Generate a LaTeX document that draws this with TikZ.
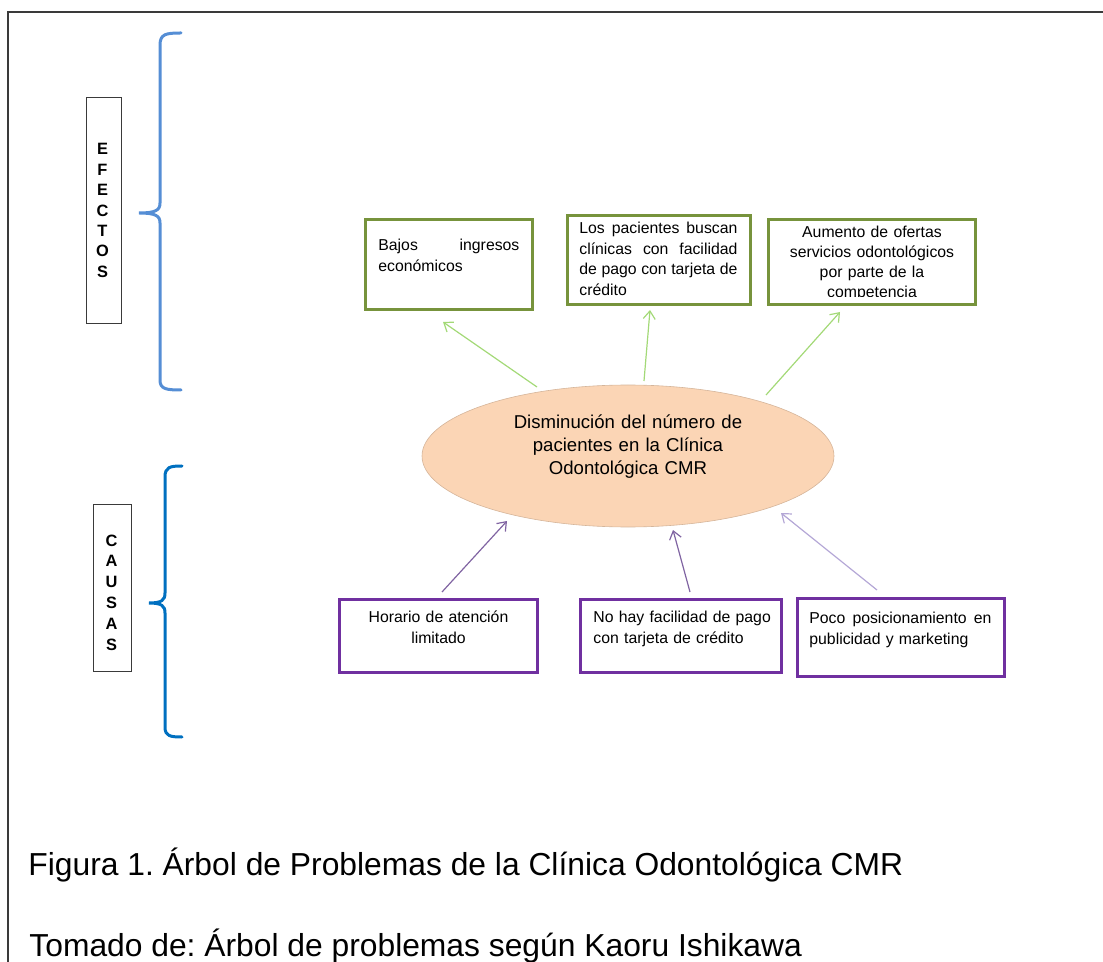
\documentclass[tikz,border=0pt]{standalone}
\usepackage{fontspec}
\setmainfont{Liberation Sans}
\frenchspacing
\usetikzlibrary{shapes.geometric,arrows.meta}
\definecolor{effgreen}{HTML}{77933C}
\definecolor{causepurple}{HTML}{7030A0}
\definecolor{arrgreen}{HTML}{A3D977}
\definecolor{arrpurple}{HTML}{8064A2}
\definecolor{arrlilac}{HTML}{B4A7D6}
\definecolor{bracelight}{HTML}{558ED5}
\definecolor{bracedark}{HTML}{0070C0}
\definecolor{peach}{HTML}{FBD5B5}
\definecolor{framegray}{HTML}{3A3A3A}
\newcommand{\spreadline}[2]{\leavevmode\hbox to #1{#2}}
\tikzset{
  effbox/.style={draw=effgreen, line width=1.5pt, rectangle, inner sep=0pt},
  causebox/.style={draw=causepurple, line width=1.5pt, rectangle, inner sep=0pt},
  labelbox/.style={draw=framegray, line width=0.5pt, rectangle, inner sep=0pt},
  boxtext/.style={inner sep=0pt, font=\fontsize{7.9}{10.5}\selectfont},
  vletters/.style={inner sep=0pt, text width=20pt, align=center, font=\bfseries\fontsize{8.2}{10.2}\selectfont},
  arrowline/.style={line width=0.6pt, -{Straight Barb[length=4pt,width=6pt]}},
  bracestyle/.style={line width=1.5pt, line cap=round}
}
\begin{document}
\begin{tikzpicture}[x=0.5pt,y=-0.5pt]
\useasboundingbox (0,0) rectangle (1103,962);
% frame
\draw[framegray, line width=1pt] (8,962) -- (8,12) -- (1103,12);

% side labels
\node[labelbox, minimum width=17.5pt, minimum height=113pt] (efbox) at (103.5,211) {};
\node[vletters, anchor=base] (eftext) at (102.5,155) {E\\F\\E\\C\\T\\O\\S};
\node[labelbox, minimum width=19pt, minimum height=83.5pt] (cabox) at (112,587.5) {};
\node[vletters, font=\bfseries\fontsize{8.2}{10.4}\selectfont, anchor=base] (catext) at (111.5,546) {C\\A\\U\\S\\A\\S};

% braces
\draw[bracelight, bracestyle] (181,33) .. controls (166,33) and (160,34) .. (160,45)
  -- (160,203) .. controls (160,210) and (156,213) .. (139,213)
  .. controls (156,213) and (160,216) .. (160,223)
  -- (160,380) .. controls (160,389) and (166,390) .. (181,390);
\draw[bracedark, bracestyle] (182,466) .. controls (170,466) and (165,467) .. (165,477)
  -- (165,593) .. controls (165,600) and (162,603) .. (149,603)
  .. controls (162,603) and (165,606) .. (165,613)
  -- (165,727) .. controls (165,736) and (170,737) .. (182,737);

% central problem
\node[ellipse, fill=peach, draw=peach!85!black, line width=0.3pt, minimum width=206pt, minimum height=71pt, inner sep=0pt] (ell) at (628,456) {};
\node[inner sep=0pt, text width=180pt, align=center, anchor=base, font=\fontsize{9.3}{11.5}\selectfont] (elltext) at (628,429)
  {Disminución del número de\\pacientes en la Clínica\\Odontológica CMR};

% effects
\node[effbox, minimum width=83.5pt, minimum height=45pt] (e1) at (449,264.5) {};
\node[boxtext, text width=70.5pt, align=left, anchor=base west] (e1t) at (378,251)
  {\spreadline{70.5pt}{Bajos\hfill ingresos}\\económicos};
\node[effbox, minimum width=91.5pt, minimum height=44.5pt] (e2) at (659,260) {};
\node[boxtext, font=\fontsize{7.9}{10.2}\selectfont, text width=79pt, align=left, anchor=base west] (e2t) at (579,234)
  {\spreadline{79pt}{Los\hfill pacientes\hfill buscan}\\\spreadline{79pt}{clínicas\hfill con\hfill facilidad}\\\spreadline{79pt}{de\hfill pago\hfill con\hfill tarjeta\hfill de}\\crédito};
\begin{scope}
\clip (770,221) rectangle (974,297);
\node[boxtext, font=\fontsize{7.9}{10}\selectfont, text width=100pt, align=center, anchor=base] (e3t) at (872,238)
  {Aumento de ofertas\\servicios odontológicos\\por parte de la\\competencia};
\end{scope}
\node[effbox, minimum width=103.5pt, minimum height=42.5pt] (e3) at (872,262) {};

% causes
\node[causebox, minimum width=99pt, minimum height=36.5pt] (c1) at (438.5,636) {};
\node[boxtext, text width=95pt, align=center, anchor=base] (c1t) at (438.5,622) {Horario de atención\\limitado};
\node[causebox, minimum width=100.5pt, minimum height=36.5pt] (c2) at (681,636) {};
\node[boxtext, text width=95pt, align=left, anchor=base west] (c2t) at (593,622) {No hay facilidad de pago\\con tarjeta de crédito};
\node[causebox, minimum width=103.5pt, minimum height=39pt] (c3) at (901,637.5) {};
\node[boxtext, text width=91pt, align=left, anchor=base west] (c3t) at (809,623)
  {\spreadline{91pt}{Poco\hfill posicionamiento\hfill en}\\publicidad y marketing};

% arrow end points
\coordinate (g1s) at (537,387); \coordinate (g1e) at (443,322);
\coordinate (g2s) at (644,381); \coordinate (g2e) at (650,310);
\coordinate (g3s) at (766,395); \coordinate (g3e) at (840,312);
\coordinate (p1s) at (442,592); \coordinate (p1e) at (507,521);
\coordinate (p2s) at (690,592); \coordinate (p2e) at (673,530);
\coordinate (p3s) at (877,590); \coordinate (p3e) at (781,513);

\draw[arrowline, arrgreen] (g1s) -- (g1e);
\draw[arrowline, arrgreen] (g2s) -- (g2e);
\draw[arrowline, arrgreen] (g3s) -- (g3e);
\draw[arrowline, arrpurple] (p1s) -- (p1e);
\draw[arrowline, arrpurple] (p2s) -- (p2e);
\draw[arrowline, arrlilac] (p3s) -- (p3e);

% captions
\node[inner sep=0pt, anchor=base west, font=\fontsize{15.9}{19}\selectfont] (cap1) at (28,875)
  {Figura 1. Árbol de Problemas de la Clínica Odontológica CMR};
\node[inner sep=0pt, anchor=base west, font=\fontsize{15.9}{19}\selectfont] (cap2) at (29,956)
  {Tomado de: Árbol de problemas según Kaoru Ishikawa};
\end{tikzpicture}
\end{document}
